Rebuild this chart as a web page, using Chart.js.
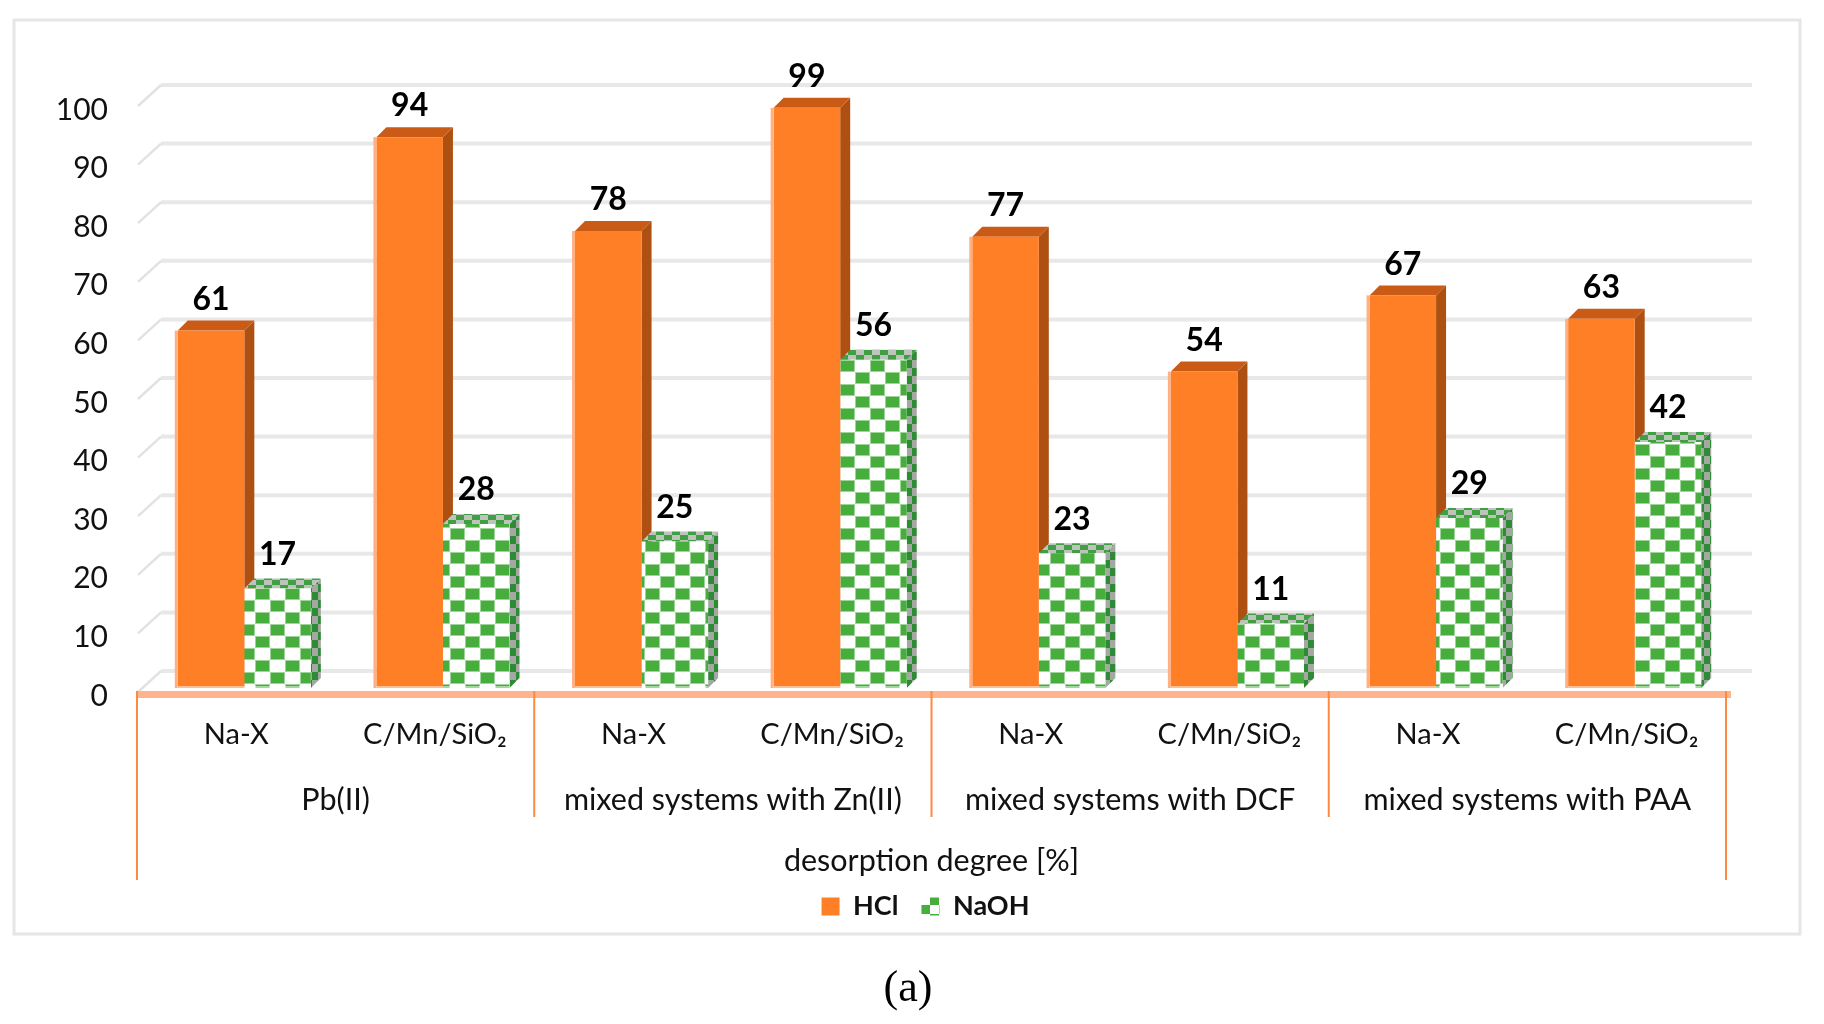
<!DOCTYPE html>
<html>
<head>
<meta charset="utf-8">
<title>desorption degree</title>
<script src="https://cdn.jsdelivr.net/npm/chart.js@4"></script>
<style>
html, body { margin: 0; padding: 0; background: #fff; }
canvas { display: block; }
</style>
</head>
<body>
<canvas id="desorptionChart" width="1824" height="1024"></canvas>
<script>
const samples = ['Na-X', 'C/Mn/SiO₂', 'Na-X', 'C/Mn/SiO₂', 'Na-X', 'C/Mn/SiO₂', 'Na-X', 'C/Mn/SiO₂'];
const groups = ['Pb(II)', 'mixed systems with Zn(II)', 'mixed systems with DCF', 'mixed systems with PAA'];
const axisTitle = 'desorption degree [%]';
const panelLabel = '(a)';
const hclValues = [61, 94, 78, 99, 77, 54, 67, 63];
const naohValues = [17, 28, 25, 56, 23, 11, 29, 42];

const ORANGE = '#fe7f26';
const GREEN = '#47ae3d';
const AXIS_ORANGE = '#fd8a41';
const BAR_SHIFT = 8;   // bars sit a little right of the label bands in the 3D view
const DEPTH = 10;
const textFont = 'Lato';

function checker(w, h, a, b, soft) {
    let c = document.createElement('canvas');
    c.width = w * 2;
    c.height = h * 2;
    let g = c.getContext('2d');
    g.fillStyle = b;
    g.fillRect(0, 0, w * 2, h * 2);
    [[0, 0], [w, h]].forEach(p => {
        if (soft) {
            g.fillStyle = soft;
            g.fillRect(p[0], p[1], w, h);
            g.fillStyle = a;
            g.fillRect(p[0] + 1, p[1] + 1, w - 2, h - 2);
        } else {
            g.fillStyle = a;
            g.fillRect(p[0], p[1], w, h);
        }
    });
    return g.createPattern(c, 'repeat');
}

const greenPattern = checker(15, 12, GREEN, '#ffffff', '#9fd49a');
const sidePattern = checker(6, 8, '#2f8a36', '#a3a8a3');
const topPattern = checker(8, 5, '#3f9f42', '#bcc4bc');

// legend swatch: two offset green squares, lined up on the swatch corner
const legendPattern = checker(9, 9, '#ffffff', GREEN);
legendPattern.setTransform(new DOMMatrix([1, 0, 0, 1, 921, 896]));

function shape(ctx, pts, fill) {
    ctx.fillStyle = fill;
    ctx.beginPath();
    pts.forEach((p, i) => i ? ctx.lineTo(p[0], p[1]) : ctx.moveTo(p[0], p[1]));
    ctx.closePath();
    ctx.fill();
}

const depthPlugin = {
    id: 'depth',
    afterLayout(chart) {
        chart.legend.left += 117;
    },
    beforeDraw(chart) {
        const ctx = chart.ctx;
        ctx.save();
        ctx.strokeStyle = '#e6e6e6';
        ctx.lineWidth = 3;
        ctx.strokeRect(14, 20, 1786, 914);
        ctx.restore();
    },
    beforeDatasetsDraw(chart) {
        const ctx = chart.ctx;
        const x = chart.scales.x;
        const y = chart.scales.y;
        const band = x.getPixelForValue(1) - x.getPixelForValue(0);
        const left = x.getPixelForValue(0) - band / 2 - BAR_SHIFT;

        // back wall lines and the slanted floor ends
        ctx.save();
        y.ticks.forEach(t => {
            let py = y.getPixelForValue(t.value);
            ctx.strokeStyle = '#e8e8e8';
            ctx.lineWidth = 4;
            ctx.beginPath();
            ctx.moveTo(left + 24, py - 17);
            ctx.lineTo(1752, py - 17);
            ctx.stroke();
            ctx.strokeStyle = '#e2e2e2';
            ctx.lineWidth = 2.5;
            ctx.beginPath();
            ctx.moveTo(left + 1, py + 4);
            ctx.lineTo(left + 24, py - 17);
            ctx.stroke();
        });

        chart.data.datasets.forEach((ds, d) => {
            chart.getDatasetMeta(d).data.forEach(bar => {
                let x0 = bar.x - bar.width / 2;
                let x1 = bar.x + bar.width / 2;
                let side = d === 0 ? '#ad5012' : sidePattern;
                let top = d === 0 ? '#c95b17' : topPattern;
                shape(ctx, [[x1, bar.y], [x1 + DEPTH, bar.y - DEPTH], [x1 + DEPTH, bar.base - DEPTH], [x1, bar.base]], side);
                shape(ctx, [[x0, bar.y], [x0 + DEPTH, bar.y - DEPTH], [x1 + DEPTH, bar.y - DEPTH], [x1, bar.y]], top);
            });
        });
        ctx.restore();
    },
    afterDatasetsDraw(chart) {
        const ctx = chart.ctx;
        const x = chart.scales.x;
        const y = chart.scales.y;
        const band = x.getPixelForValue(1) - x.getPixelForValue(0);
        const left = x.getPixelForValue(0) - band / 2 - BAR_SHIFT;
        const floor = y.getPixelForValue(0);

        ctx.save();
        // pale edges of the bars
        chart.getDatasetMeta(0).data.forEach(bar => {
            ctx.fillStyle = '#ffb184';
            ctx.fillRect(bar.x - bar.width / 2 - 3, bar.y, 3, bar.base - bar.y);
        });
        chart.data.datasets.forEach((ds, d) => {
            chart.getDatasetMeta(d).data.forEach(bar => {
                ctx.fillStyle = 'rgba(255,255,255,0.5)';
                ctx.fillRect(bar.x - bar.width / 2, bar.base - 2, bar.width, 5);
            });
        });

        // floor edge
        ctx.fillStyle = '#ffb48c';
        ctx.fillRect(left, floor + 3, 1731 - left, 7);

        // multi level axis separators
        ctx.strokeStyle = AXIS_ORANGE;
        ctx.lineWidth = 2;
        groups.forEach((g, i) => {
            let px = left + band * 2 * i;
            ctx.beginPath();
            ctx.moveTo(px, floor + 3);
            ctx.lineTo(px, i === 0 ? 880 : 817);
            ctx.stroke();
        });
        ctx.beginPath();
        ctx.moveTo(left + band * 8, floor + 3);
        ctx.lineTo(left + band * 8, 880);
        ctx.stroke();

        // group row and axis title
        ctx.fillStyle = '#111';
        ctx.font = '30.5px ' + textFont;
        ctx.textAlign = 'center';
        ctx.textBaseline = 'middle';
        groups.forEach((g, i) => {
            ctx.fillText(g, left + band * (2 * i + 1), 800);
        });
        ctx.fillText(axisTitle, left + band * 4, 861);

        // value labels
        ctx.fillStyle = '#000';
        ctx.font = 'bold 32px ' + textFont;
        chart.data.datasets.forEach((ds, d) => {
            chart.getDatasetMeta(d).data.forEach((bar, i) => {
                ctx.fillText(ds.data[i], bar.x, bar.y - (d === 0 ? 31 : 34));
            });
        });

        ctx.font = '44px "Liberation Serif"';
        ctx.fillText(panelLabel, 908, 989);
        ctx.restore();
    }
};

const desorptionChart = new Chart(document.getElementById('desorptionChart'), {
    type: 'bar',
    data: {
        labels: samples,
        datasets: [{
            label: 'HCl',
            data: hclValues,
            backgroundColor: ORANGE
        }, {
            label: 'NaOH',
            data: naohValues,
            backgroundColor: greenPattern
        }]
    },
    options: {
        responsive: false,
        devicePixelRatio: 1,
        animation: false,
        events: [],
        datasets: {
            bar: { categoryPercentage: 0.67, barPercentage: 1 }
        },
        layout: {
            padding: { top: 102, right: 90, bottom: 94, left: 0 }
        },
        scales: {
            x: {
                grid: { display: false },
                border: { display: false },
                afterFit: (scale) => { scale.height = 182; },
                ticks: {
                    color: '#111',
                    font: { family: textFont, size: 29 },
                    padding: 21,
                    labelOffset: -BAR_SHIFT,
                    maxRotation: 0,
                    autoSkip: false
                }
            },
            y: {
                min: 0,
                max: 100,
                grid: { display: false },
                border: { display: false },
                afterFit: (scale) => { scale.width = 145; },
                ticks: {
                    stepSize: 10,
                    color: '#111',
                    font: { family: textFont, size: 30 },
                    padding: 29,
                    labelOffset: 8
                }
            }
        },
        plugins: {
            tooltip: { enabled: false },
            legend: {
                position: 'bottom',
                labels: {
                    color: '#111',
                    font: { family: textFont, size: 27, weight: 'bold' },
                    boxWidth: 18,
                    boxHeight: 18,
                    padding: 23,
                    generateLabels(chart) {
                        let items = Chart.defaults.plugins.legend.labels.generateLabels(chart);
                        items[1].fillStyle = legendPattern;
                        return items;
                    }
                }
            }
        }
    },
    plugins: [depthPlugin]
});
</script>
</body>
</html>
